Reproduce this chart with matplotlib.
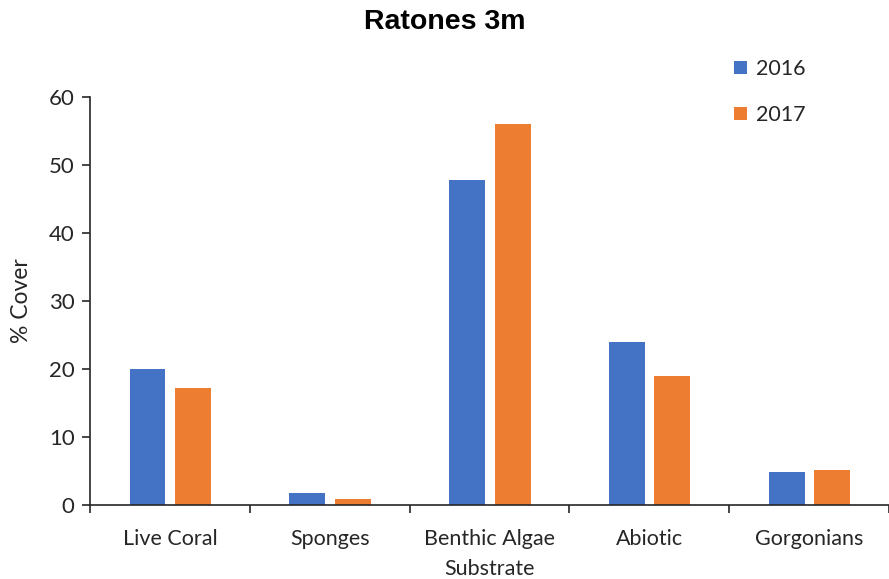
import numpy as np
import matplotlib
matplotlib.use("Agg")
import matplotlib.pyplot as plt

categories = ["Live Coral", "Sponges", "Benthic Algae\nSubstrate", "Abiotic", "Gorgonians"]
cover_2016 = [20.0, 1.7, 47.8, 24.0, 4.9]
cover_2017 = [17.2, 0.9, 56.0, 18.9, 5.1]

plt.rcParams['font.family'] = ['Lato', 'DejaVu Sans']

fig = plt.figure(figsize=(8.89, 5.79), dpi=100)
ax = fig.add_axes([0.1012, 0.1278, 0.8988, 0.7047])

x = np.arange(len(categories))
w = 0.225
ax.bar(x - 0.14, cover_2016, w, color="#4472C4", label="2016")
ax.bar(x + 0.145, cover_2017, w, color="#ED7D31", label="2017")

ax.set_xlim(-0.5, len(categories) - 0.5)
ax.set_ylim(0, 60)
ax.set_yticks(range(0, 61, 10))
ax.set_xticks(x)
ax.set_xticklabels(categories, fontsize=15.5, color="#262626", linespacing=1.65)
ax.set_xticks(np.arange(-0.5, len(categories)), minor=True)
ax.tick_params(axis="x", which="major", length=0, pad=17)
ax.tick_params(axis="x", which="minor", length=6, width=1.2, color="#262626")
ax.tick_params(axis="y", length=6, width=1.2, color="#262626", labelsize=16,
               labelcolor="#262626", pad=5)

for s in ["top", "right"]:
    ax.spines[s].set_visible(False)
for s in ["left", "bottom"]:
    ax.spines[s].set_linewidth(1.2)
    ax.spines[s].set_color("#262626")

ax.set_ylabel("% Cover", fontsize=16.5, color="#262626", labelpad=12)
fig.text(0.5, 0.962, "Ratones 3m", ha="center", va="center", fontsize=20.5,
         fontweight="bold", family=["Liberation Sans", "DejaVu Sans"])

ax.legend(loc="upper left", bbox_to_anchor=(0.782, 1.14), frameon=False,
          fontsize=15.5, handlelength=0.6, handleheight=0.6, handletextpad=0.4,
          labelspacing=1.2, labelcolor="#262626")

fig.savefig("out.png", dpi=100)
